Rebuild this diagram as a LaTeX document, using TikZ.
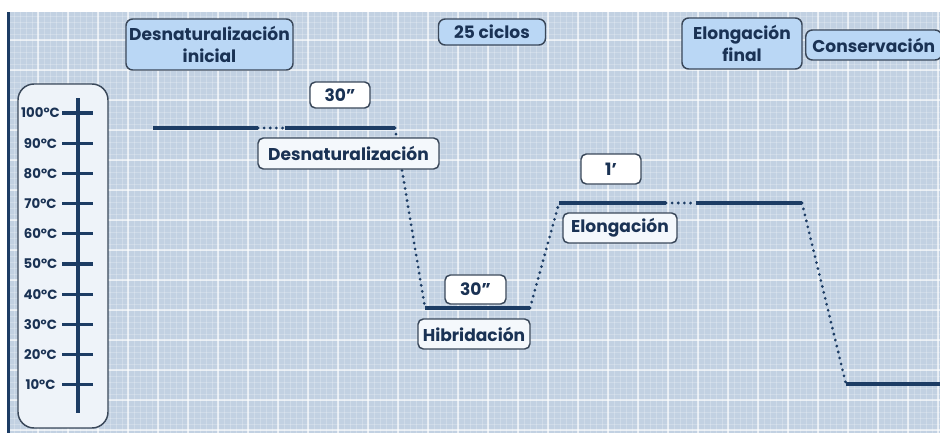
\documentclass[tikz,border=0pt]{standalone}
\usepackage{fontspec}
\setmainfont{Poppins}
\definecolor{paper}{RGB}{194,209,226}
\definecolor{ink}{RGB}{26,50,84}
\definecolor{trace}{RGB}{28,60,100}
\definecolor{boxedge}{RGB}{58,72,90}
\definecolor{hdrfill}{RGB}{186,215,245}
\definecolor{lblfill}{RGB}{244,248,252}
\definecolor{thermofill}{RGB}{238,243,249}
\begin{document}
\begin{tikzpicture}[
  x=0.75pt, y=-0.75pt,
  labfont/.style={font=\fontsize{12.8}{16.5}\selectfont\bfseries},
  hdr/.style={draw=boxedge, line width=1.1pt, rounded corners=5pt, fill=hdrfill,
    text=ink, labfont, align=center, inner sep=0pt},
  stepbox/.style={draw=boxedge, line width=1.1pt, rounded corners=4pt, fill=lblfill,
    text=ink, labfont, inner sep=0pt},
  timebox/.style={draw=boxedge, line width=1.1pt, rounded corners=4pt, fill=white,
    text=ink, labfont, inner sep=0pt},
  level/.style={draw=trace, line width=2.6pt},
  ramp/.style={draw=trace, line width=2.3pt, line cap=round, dash pattern=on 0pt off 4.6pt},
  tick/.style={draw=trace, line width=2.4pt},
  templbl/.style={text=ink, font=\fontsize{10}{11}\selectfont\bfseries, inner sep=0pt},
  gridfine/.style={draw=white, opacity=0.22, line width=0.45pt},
  gridmajor/.style={draw=white, opacity=0.6, line width=0.8pt},
]
\useasboundingbox (0,0) rectangle (940,433);
\clip (0,0) rectangle (940,433);

% page and graph paper
\fill[white] (0,0) rectangle (940,433);
\fill[paper] (10,12) rectangle (940,433);
\foreach \gx in {14,20,...,940} \draw[gridfine] (\gx,12) -- (\gx,433);
\foreach \gy in {16,22,...,433} \draw[gridfine] (10,\gy) -- (940,\gy);
\foreach \gx in {38,68,...,940} \draw[gridmajor] (\gx,12) -- (\gx,433);
\foreach \gy in {40,70,...,433} \draw[gridmajor] (10,\gy) -- (940,\gy);
\fill[trace] (7,12) rectangle (10,433);

% thermometer scale
\node[draw=boxedge, line width=1.1pt, rounded corners=12pt, fill=thermofill,
  minimum width=90*0.75pt, minimum height=344*0.75pt, inner sep=0pt] (thermo) at (63,256) {};
\coordinate (axtop) at (78,98);
\coordinate (axbot) at (78,413);
\draw[tick] (axtop) -- (axbot);
\foreach \t [count=\i from 0] in {100,90,80,70,60,50,40,30,20,10} {
  \coordinate (tl\t) at (62,113+30.2*\i);
  \coordinate (tr\t) at (93,113+30.2*\i);
  \draw[tick] (tl\t) -- (tr\t);
  \node[templbl] (lab\t) at (40.5,113+30.2*\i) {\t ºC};
}

% stage headers
\node[hdr, minimum width=167*0.75pt, minimum height=51*0.75pt] (hinit) at (209.5,44.5)
  {Desnaturalización\\inicial};
\node[hdr, minimum width=107*0.75pt, minimum height=26*0.75pt] (hcyc) at (492,32) {25 ciclos};
\node[hdr, minimum width=120*0.75pt, minimum height=51*0.75pt] (hfin) at (742,43.5)
  {Elongación\\final};
\node[hdr, anchor=west, minimum height=30*0.75pt, inner xsep=5pt] (hcons) at (805,45) {Conservación};

% temperature profile
\coordinate (a0) at (153,128);
\coordinate (a1) at (258,128);
\coordinate (a2) at (285,128);
\coordinate (a3) at (395,128);
\coordinate (b0) at (425,308);
\coordinate (b1) at (530,308);
\coordinate (c0) at (559,203);
\coordinate (c1) at (666,203);
\coordinate (c2) at (696,203);
\coordinate (c3) at (802,203);
\coordinate (d0) at (846,384);
\coordinate (d1) at (940,384);
\draw[level] (a0) -- (a1);
\draw[ramp] (a1) -- (a2);
\draw[level] (a2) -- (a3);
\draw[ramp] (a3) -- (b0);
\draw[level] (b0) -- (b1);
\draw[ramp] (b1) -- (c0);
\draw[level] (c0) -- (c1);
\draw[ramp] (c1) -- (c2);
\draw[level] (c2) -- (c3);
\draw[ramp] (c3) -- (d0);
\draw[level] (d0) -- (d1);

% step names and hold times
\node[stepbox, minimum width=181*0.75pt, minimum height=31*0.75pt] (sden) at (348.5,153.5) {Desnaturalización};
\node[stepbox, minimum width=112*0.75pt, minimum height=30*0.75pt] (shib) at (474,334) {Hibridación};
\node[stepbox, minimum width=114*0.75pt, minimum height=30*0.75pt] (selo) at (620,228) {Elongación};
\node[timebox, minimum width=60*0.75pt, minimum height=26*0.75pt] (tden) at (340,95) {30”};
\node[timebox, minimum width=61*0.75pt, minimum height=29*0.75pt] (thib) at (475.5,289.5) {30”};
\node[timebox, minimum width=60*0.75pt, minimum height=30*0.75pt] (telo) at (611,169) {1’};
\end{tikzpicture}
\end{document}
